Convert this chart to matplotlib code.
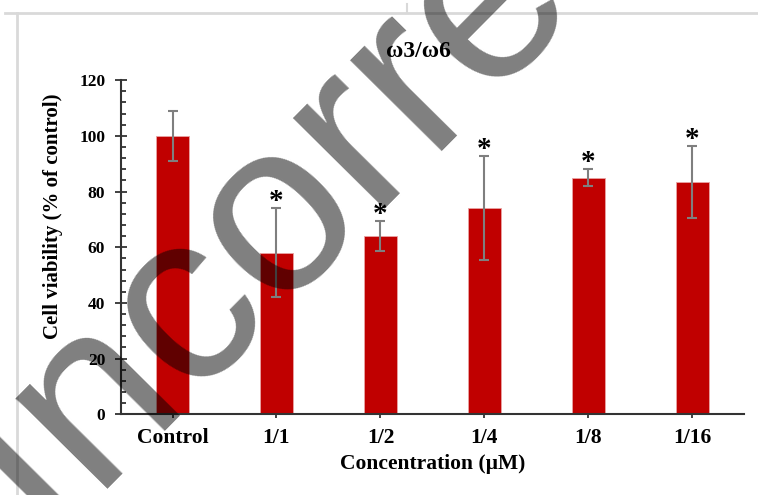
import numpy as np
import matplotlib
matplotlib.use("Agg")
import matplotlib.pyplot as plt
from matplotlib.ticker import MultipleLocator
from matplotlib.lines import Line2D

# data
groups = ["Control", "1/1", "1/2", "1/4", "1/8", "1/16"]
viability = [100, 58, 64, 74, 85, 83.4]
err = [9, 16, 5.4, 18.6, 3, 13]
significant = [False, True, True, True, True, True]

plt.rcParams["font.family"] = ["Liberation Serif", "DejaVu Serif"]
plt.rcParams["font.weight"] = "bold"

fig = plt.figure(figsize=(7.58, 4.95), dpi=100)
ax = fig.add_axes([0.159, 0.163, 0.823, 0.675])

x = np.arange(len(groups))
ax.bar(x, viability, width=0.32, color="#C00000", edgecolor="#e9a3a3",
       linewidth=0.6, zorder=2)
ax.errorbar(x, viability, yerr=err, fmt="none", ecolor="#7f7f7f",
            elinewidth=1.5, capsize=3.5, capthick=1.5, zorder=3)

for xi, v, e, s in zip(x, viability, err, significant):
    if s:
        ax.annotate("*", (xi, v + e), xytext=(0, -5), textcoords="offset points",
                    ha="center", va="bottom", fontsize=21, fontweight="bold")

ax.set_xlim(-0.5, 5.5)
ax.set_ylim(0, 120)
ax.yaxis.set_major_locator(MultipleLocator(20))
ax.yaxis.set_minor_locator(MultipleLocator(4))
ax.set_xticks(x)
ax.set_xticklabels(groups, fontsize=15.5, fontweight="bold")
for lab in ax.get_yticklabels():
    lab.set_fontsize(12.5)
    lab.set_fontweight("bold")

ax.tick_params(axis="y", which="major", direction="inout", length=8, width=1.3,
               color="#333333", pad=7)
ax.tick_params(axis="y", which="minor", direction="in", length=3.6, width=1.3,
               color="#333333")
ax.tick_params(axis="x", which="major", direction="out", length=3, width=1.3,
               color="#333333", pad=7)

for side in ["top", "right"]:
    ax.spines[side].set_visible(False)
for side in ["left", "bottom"]:
    ax.spines[side].set_color("#333333")
    ax.spines[side].set_linewidth(1.5)

ax.set_xlabel("Concentration (µM)", fontsize=15.5, fontweight="bold", labelpad=4)
ax.set_ylabel("Cell viability (% of control)", fontsize=15, fontweight="bold")
ax.yaxis.set_label_coords(-0.092, 0.593)
fig.text(0.552, 0.895, "ω3/ω6", ha="center", va="center", fontsize=17,
         fontweight="bold")

# chart area border (top and left edges)
fig.add_artist(Line2D([5 / 758, 1], [1 - 13 / 495] * 2, transform=fig.transFigure,
                      color="#d9d9d9", lw=2))
fig.add_artist(Line2D([17 / 758] * 2, [0, 1 - 13 / 495], transform=fig.transFigure,
                      color="#d9d9d9", lw=2))
fig.add_artist(Line2D([407 / 758] * 2, [1 - 13 / 495, 1 - 4 / 495],
                      transform=fig.transFigure, color="#d9d9d9", lw=1.5))

# watermark, baseline start just below the bottom-left corner
fig.text(42 / 758, 1 - 532.6 / 495, "Incorrect", fontsize=176,
         family="Liberation Sans", fontweight="normal", color="black", alpha=0.5,
         rotation=45.3, rotation_mode="anchor", ha="left", va="baseline",
         zorder=10)

fig.savefig("out.png", dpi=100)
